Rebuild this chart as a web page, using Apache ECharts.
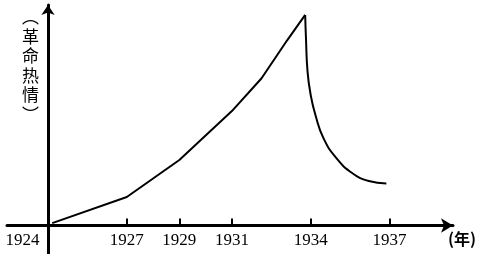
<!DOCTYPE html>
<html>
<head>
<meta charset="utf-8">
<script src="https://cdn.jsdelivr.net/npm/echarts@6/dist/echarts.min.js"></script>
<style>
html,body{margin:0;padding:0;background:#fff;}
#chart{width:484px;height:254px;}
</style>
</head>
<body>
<div id="chart"></div>
<script>
// ---- data ----
const baseYear = 1924;
const tickYears = [1924, 1927, 1929, 1931, 1934, 1937];
const riseYears = [1924.16, 1927, 1929, 1931, 1932.13, 1933.11, 1933.79];
const riseValues = [0.11, 1.29, 2.97, 5.19, 6.68, 8.41, 9.55];
const fallYears = [1933.79, 1933.82, 1933.88, 1934.0, 1934.18, 1934.49, 1934.98, 1935.59, 1936.21, 1936.88];
const fallValues = [9.55, 8.49, 6.98, 5.92, 5.01, 3.95, 3.05, 2.37, 2.02, 1.91];
const yName = '︵\n革\n命\n热\n情\n︶';
const xName = '(年)';

const rel = y => +(y - baseYear).toFixed(3);
const pairs = (xs, ys) => xs.map((x, i) => [rel(x), ys[i]]);
const tickRel = tickYears.map(rel);
const X_MIN = -1.561, X_MAX = 15.417;

const chart = echarts.init(document.getElementById('chart'), null, {renderer: 'canvas'});
chart.setOption({
  animation: false,
  backgroundColor: '#fff',
  grid: [
    {left: 7, right: 31, top: 5, bottom: 28.5, containLabel: false, outerBoundsMode: 'none'},
    {left: 7, right: 31, top: 225.5, bottom: 0, containLabel: false, outerBoundsMode: 'none'}
  ],
  xAxis: [{
    type: 'value',
    gridIndex: 0,
    min: X_MIN,
    max: X_MAX,
    splitLine: {show: false},
    axisLine: {
      onZero: false,
      lineStyle: {color: '#000', width: 3},
      symbol: ['none', 'arrow'],
      symbolSize: [11, 12]
    },
    axisTick: {
      show: true, inside: true, length: 7,
      customValues: tickRel.filter(v => v !== 0),
      lineStyle: {color: '#000', width: 2}
    },
    axisLabel: {
      show: true,
      customValues: tickRel,
      margin: 7,
      color: '#000',
      fontFamily: 'Liberation Serif',
      fontSize: 17,
      formatter: v => (Math.abs(v) < 1e-6 ? '{a|' + (baseYear + v) + '}' : String(Math.round(baseYear + v))),
      rich: {a: {fontFamily: 'Liberation Serif', fontSize: 17, color: '#000', padding: [0, 51, 0, 0]}}
    },
    name: xName,
    nameLocation: 'end',
    nameGap: -5,
    nameTextStyle: {
      fontFamily: 'Noto Sans CJK SC', fontWeight: 'bold', fontSize: 16, color: '#000',
      align: 'left', verticalAlign: 'top', padding: [5, 0, 0, 0]
    }
  }, {
    type: 'value',
    gridIndex: 1,
    min: X_MIN,
    max: X_MAX,
    show: false
  }],
  yAxis: [{
    type: 'value',
    gridIndex: 0,
    min: 0,
    max: 10,
    splitLine: {show: false},
    axisTick: {show: false},
    axisLabel: {show: false},
    axisLine: {
      onZero: true,
      lineStyle: {color: '#000', width: 3},
      symbol: ['none', 'arrow'],
      symbolSize: [10, 10]
    },
    name: yName,
    nameLocation: 'end',
    nameGap: -2,
    nameTextStyle: {
      fontFamily: 'Noto Sans CJK SC', fontSize: 17, color: '#000', lineHeight: 19.5,
      align: 'right', verticalAlign: 'top', padding: [0, 9, 0, 0]
    }
  }, {
    type: 'value',
    gridIndex: 1,
    min: 0,
    max: 1,
    splitLine: {show: false},
    axisTick: {show: false},
    axisLabel: {show: false},
    axisLine: {show: true, onZero: true, lineStyle: {color: '#000', width: 3}}
  }],
  series: [
    {
      type: 'line', data: pairs(riseYears, riseValues),
      xAxisIndex: 0, yAxisIndex: 0,
      symbol: 'none', smooth: false,
      lineStyle: {color: '#000', width: 2}
    },
    {
      type: 'line', data: pairs(fallYears, fallValues),
      xAxisIndex: 0, yAxisIndex: 0,
      symbol: 'none', smooth: 0.5,
      lineStyle: {color: '#000', width: 2}
    }
  ]
});
</script>
</body>
</html>
